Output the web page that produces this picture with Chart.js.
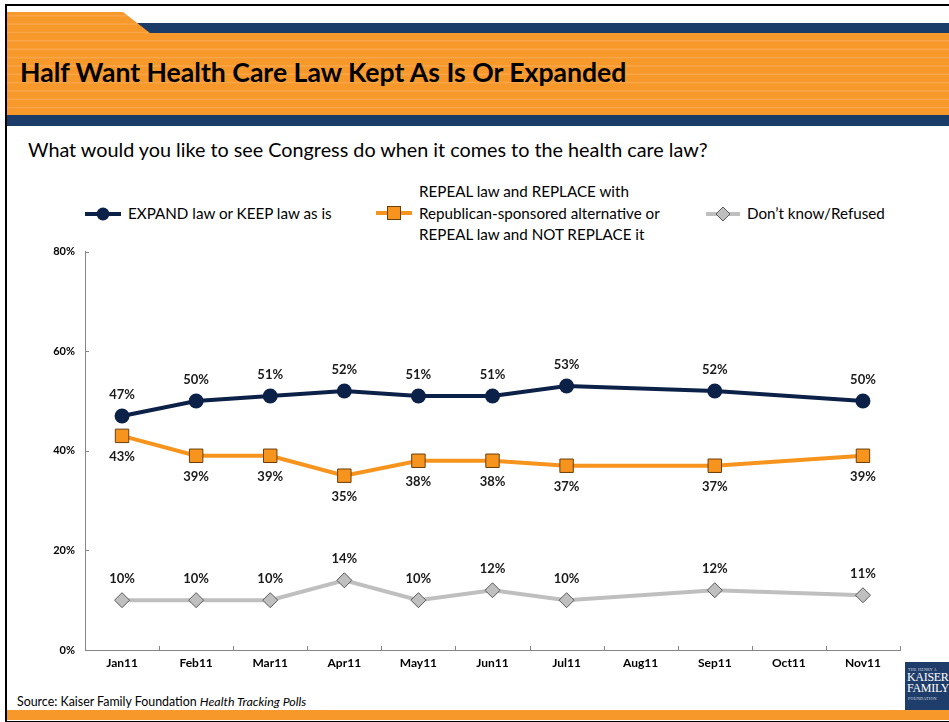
<!DOCTYPE html>
<html>
<head>
<meta charset="utf-8">
<script src="https://cdn.jsdelivr.net/npm/chart.js@4.4.1/dist/chart.umd.min.js"></script>
<style>
  html, body { margin: 0; padding: 0; background: #fff; }
  body { width: 949px; height: 722px; position: relative; overflow: hidden; font-family: Lato, "Noto Sans", sans-serif; color: #000; }
  .frame { position: absolute; left: 5px; top: 4px; width: 980px; height: 715px; border: 2px solid #000; }
  #header { position: absolute; left: 7px; top: 12px; }
  .title { position: absolute; left: 20px; top: 56px; font-size: 26.6px; font-weight: 700; white-space: nowrap; }
  .question { position: absolute; left: 28px; top: 137px; font-size: 19.8px; white-space: nowrap; }
  .legend-item { position: absolute; display: flex; align-items: center; font-size: 15.2px; line-height: 21.5px; white-space: nowrap; }
  .legend-item svg { margin-right: 7px; }
  #chart { position: absolute; left: 0; top: 235px; }
  .source { position: absolute; left: 17px; top: 694px; font-size: 12.4px; white-space: nowrap; }
  .bottom-band { position: absolute; left: 7px; top: 710px; width: 960px; height: 10px; background: #f7982b; }
  .logo { position: absolute; left: 905px; top: 662px; width: 50px; height: 48px; background: #1f3d6b; color: #fff; overflow: hidden; font-family: "Liberation Serif", serif; }
  .logo .small { font-size: 4px; letter-spacing: 0.3px; margin: 5px 0 0 3px; opacity: 0.8; }
  .logo .big { font-size: 12px; line-height: 11px; margin-left: 2px; letter-spacing: -0.3px; }
</style>
</head>
<body>
<div class="frame"></div>
<svg id="header" width="942" height="114"></svg>
<div class="title">Half Want Health Care Law Kept As Is Or Expanded</div>
<div class="question">What would you like to see Congress do when it comes to the health care law?</div>

<div class="legend-item" style="left:85px; top:203px;">
  <svg width="36" height="16"><line x1="0" y1="8" x2="36" y2="8" stroke="#0c2147" stroke-width="4"/><circle cx="18" cy="8" r="6.5" fill="#0c2147"/></svg>
  <span>EXPAND law or KEEP law as is</span>
</div>
<div class="legend-item" style="left:376px; top:181px;">
  <svg width="36" height="16"><line x1="0" y1="8" x2="36" y2="8" stroke="#f7941d" stroke-width="4"/><rect x="11.5" y="1.5" width="13" height="13" fill="#f7941d" stroke="#6b3f0c" stroke-width="1"/></svg>
  <span>REPEAL law and REPLACE with<br>Republican-sponsored alternative or<br>REPEAL law and NOT REPLACE it</span>
</div>
<div class="legend-item" style="left:706px; top:203px;">
  <svg width="34" height="16"><line x1="0" y1="8" x2="34" y2="8" stroke="#bfbfbf" stroke-width="4"/><polygon points="17,1 24,8 17,15 10,8" fill="#bfbfbf" stroke="#595959" stroke-width="1"/></svg>
  <span>Don’t know/Refused</span>
</div>

<canvas id="chart" width="949" height="445"></canvas>

<div class="source">Source: Kaiser Family Foundation <i>Health Tracking Polls</i></div>
<div class="bottom-band"></div>
<div class="logo">
  <div class="small">THE HENRY J.</div>
  <div class="big">KAISER</div>
  <div class="big">FAMILY</div>
  <div class="small" style="margin-top:2px;">FOUNDATION</div>
</div>

<script>
const months = ['Jan11', 'Feb11', 'Mar11', 'Apr11', 'May11', 'Jun11', 'Jul11', 'Aug11', 'Sep11', 'Oct11', 'Nov11'];
const expandKeep = [47, 50, 51, 52, 51, 51, 53, null, 52, null, 50];
const repealReplace = [43, 39, 39, 35, 38, 38, 37, null, 37, null, 39];
const dontKnow = [10, 10, 10, 14, 10, 12, 10, null, 12, null, 11];
const seriesNames = ['EXPAND law or KEEP law as is', 'REPEAL law and REPLACE with Republican-sponsored alternative or REPEAL law and NOT REPLACE it', 'Don’t know/Refused'];
const yMin = 0, yMax = 80, yStep = 20;

// header: orange tab + navy strips, with thin light stripes across the orange
function drawHeader() {
    const svg = document.getElementById('header');
    const ns = 'http://www.w3.org/2000/svg';
    const add = (tag, attrs) => {
        const el = document.createElementNS(ns, tag);
        for (const k in attrs) el.setAttribute(k, attrs[k]);
        svg.appendChild(el);
        return el;
    };
    add('rect', { x: 130, y: 11, width: 820, height: 11, fill: '#1b3c68' });
    add('polygon', { points: '0,0 116,0 143,21 950,21 950,103 0,103', fill: '#f7982b' });
    for (let y = 3; y < 103; y += 8.35) {
        const x1 = y < 21 ? 116 + (y / 21) * 27 : 950;
        add('rect', { x: 0, y: y.toFixed(1), width: x1, height: 1.6, fill: '#f9ab55', opacity: 0.7 });
    }
    add('rect', { x: 0, y: 103, width: 950, height: 11, fill: '#1b3c68' });
}
drawHeader();

// percent labels above or below each point
const pointLabels = {
    id: 'pointLabels',
    afterDatasetsDraw(chart) {
        const ctx = chart.ctx;
        ctx.save();
        ctx.font = 'bold 13px Lato, sans-serif';
        ctx.fillStyle = '#1a1a1a';
        ctx.textAlign = 'center';
        ctx.textBaseline = 'middle';
        chart.data.datasets.forEach((ds, i) => {
            const meta = chart.getDatasetMeta(i);
            meta.data.forEach((pt, j) => {
                const v = ds.data[j];
                if (v === null) return;
                const dy = ds.labelPos === 'below' ? 21 : -21;
                ctx.fillText(v + '%', pt.x, pt.y + dy);
            });
        });
        ctx.restore();
    }
};

// short tick marks drawn on the inside of both axes
const insideTicks = {
    id: 'insideTicks',
    beforeDatasetsDraw(chart) {
        const { ctx, chartArea, scales } = chart;
        ctx.save();
        ctx.strokeStyle = '#868686';
        ctx.lineWidth = 1;
        ctx.beginPath();
        scales.y.ticks.forEach(t => {
            const y = Math.round(scales.y.getPixelForValue(t.value)) + 0.5;
            ctx.moveTo(chartArea.left, y);
            ctx.lineTo(chartArea.left + 4, y);
        });
        const step = scales.x.getPixelForValue(1) - scales.x.getPixelForValue(0);
        for (let i = 0; i <= months.length; i++) {
            const x = Math.round(scales.x.getPixelForValue(i) - step / 2) + 0.5;
            ctx.moveTo(x, chartArea.bottom);
            ctx.lineTo(x, chartArea.bottom - 4);
        }
        ctx.stroke();
        ctx.restore();
    }
};

new Chart(document.getElementById('chart'), {
    type: 'line',
    data: {
        labels: months,
        datasets: [
            {
                label: seriesNames[0],
                data: expandKeep,
                borderColor: '#0c2147',
                backgroundColor: '#0c2147',
                borderWidth: 4,
                pointStyle: 'circle',
                pointRadius: 7.5,
                pointBorderWidth: 0,
                labelPos: 'above'
            },
            {
                label: seriesNames[1],
                data: repealReplace,
                borderColor: '#f7941d',
                backgroundColor: '#f7941d',
                pointBorderColor: '#6b3f0c',
                borderWidth: 4,
                pointStyle: 'rect',
                pointRadius: 9.5,
                pointBorderWidth: 1,
                labelPos: 'below'
            },
            {
                label: seriesNames[2],
                data: dontKnow,
                borderColor: '#bfbfbf',
                backgroundColor: '#bfbfbf',
                pointBorderColor: '#595959',
                borderWidth: 4,
                pointStyle: 'rectRot',
                pointRadius: 7.5,
                pointBorderWidth: 1,
                labelPos: 'above'
            }
        ]
    },
    options: {
        responsive: false,
        animation: false,
        spanGaps: true,
        layout: { autoPadding: false, padding: { top: 11, right: 49, left: 0, bottom: 0 } },
        plugins: {
            legend: { display: false },
            tooltip: { enabled: false }
        },
        scales: {
            x: {
                offset: true,
                grid: { display: false, drawTicks: false },
                border: { color: '#868686', width: 1 },
                ticks: { color: '#000', padding: 6, font: { family: 'Lato', weight: 'bold', size: 12 } },
                afterFit(scale) { scale.height = 30; }
            },
            y: {
                min: yMin,
                max: yMax,
                grid: { display: false, drawTicks: false },
                border: { color: '#868686', width: 1 },
                ticks: {
                    stepSize: yStep,
                    color: '#000',
                    padding: 10,
                    font: { family: 'Lato', weight: 'bold', size: 11 },
                    callback: v => v + '%'
                },
                afterFit(scale) { scale.width = 85; }
            }
        }
    },
    plugins: [insideTicks, pointLabels]
});
</script>
</body>
</html>
